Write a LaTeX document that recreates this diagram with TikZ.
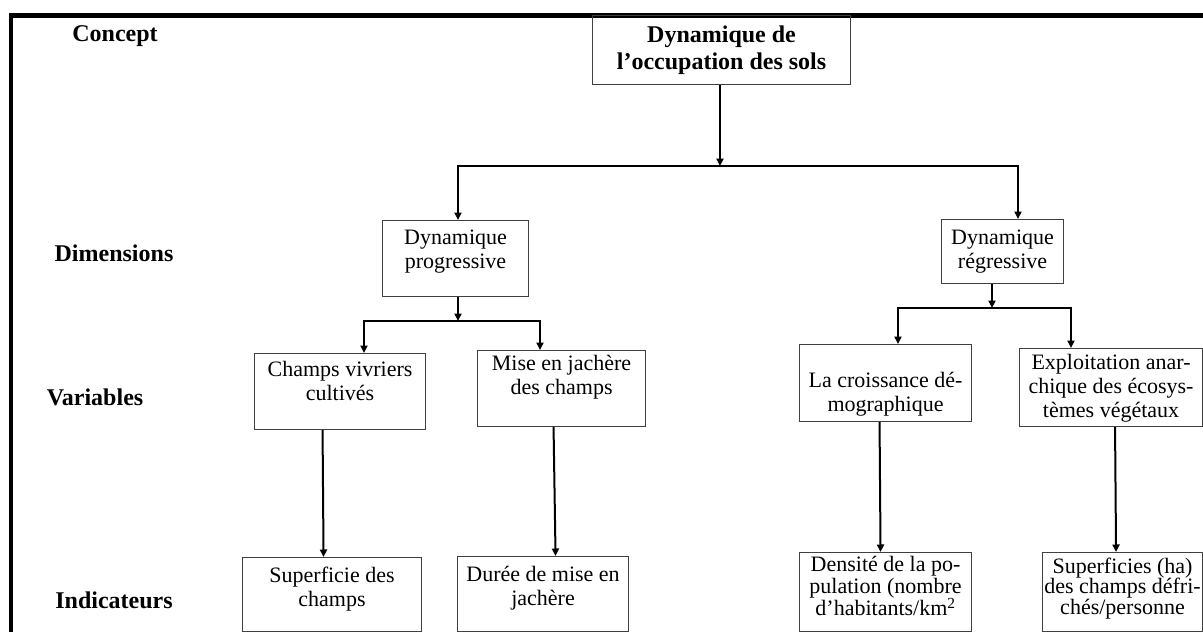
\documentclass[tikz,border=0pt]{standalone}
\usepackage{fontspec}
\setmainfont{Liberation Serif}
\usetikzlibrary{arrows.meta}
\newcommand\bxt[4]{\parbox[c][#2pt][t]{#1pt}{\lineskiplimit=-100pt\centering\vspace*{#3pt}#4\par}}
\begin{document}
\begin{tikzpicture}[x=1pt,y=-1pt,
  box/.style={draw=black!75, line width=1.1pt, inner sep=0pt, anchor=north west, font=\fontsize{22}{24}\selectfont},
  lbl/.style={font=\fontsize{24}{27}\selectfont\bfseries},
  arr/.style={line width=2pt, line join=miter, -{Triangle[length=7.5pt,width=7pt]}},
  frameline/.style={line width=4.5pt, line join=miter}]
\useasboundingbox (0,0) rectangle (1203,632);
% frame
\draw[frameline] (10.8,640) -- (10.8,15.3) -- (1210,15.3);
% labels
\node[lbl] (concept) at (115,36) {Concept};
\node[lbl] (dims) at (114,253) {Dimensions};
\node[lbl] (vars) at (95,397) {Variables};
\node[lbl] (inds) at (114,600) {Indicateurs};
% boxes
\node[box, font=\fontsize{24}{27}\selectfont\bfseries] (top) at (592,15.3) {\bxt{258}{68.7}{10}{Dynamique de\\l’occupation des sols}};
\node[box] (prog) at (382,220) {\bxt{146}{76}{9}{Dynamique\\progressive}};
\node[box] (regr) at (941,219) {\bxt{122}{64}{10}{Dynamique\\régressive}};
\node[box] (champs) at (254,353) {\bxt{171}{76}{8}{Champs vivriers\\cultivés}};
\node[box] (mise) at (477,350) {\bxt{168}{76}{5}{Mise en jachère\\des champs}};
\node[box] (croiss) at (799,344) {\bxt{172}{77}{28}{La croissance dé-\\mographique}};
\node[box] (exploit) at (1019,348) {\bxt{183}{78}{6}{Exploitation anar-\\chique des écosys-\\tèmes végétaux}};
\node[box] (sup) at (242,557) {\bxt{179}{74}{9}{Superficie des\\champs}};
\node[box] (duree) at (457,556) {\bxt{171}{75}{10}{Durée de mise en\\jachère}};
\node[box] (dens) at (799,552) {\bxt{172}{79}{4}{\fontsize{22}{22}\selectfont Densité de la po-\\pulation (nombre\\d’habitants/km\textsuperscript{2}}};
\node[box] (sups) at (1042,552) {\bxt{160}{79}{5}{\fontsize{22}{20.5}\selectfont Superficies (ha)\\des champs défri-\\chés/personne}};
% junction coordinates
\coordinate (j0) at (720,166);
\coordinate (j0L) at (458,166);
\coordinate (j0R) at (1018,166);
\coordinate (jp) at (458,321);
\coordinate (jpL) at (364,321);
\coordinate (jpR) at (540,321);
\coordinate (jr) at (992,308);
\coordinate (jrL) at (898,308);
\coordinate (jrR) at (1071,308);
% connectors
\draw[arr] (top.south -| j0) -- (j0);
\draw[arr] (j0) -- (j0L) -- (j0L |- prog.north);
\draw[arr] (j0) -- (j0R) -- (j0R |- regr.north);
\draw[arr] (prog.south -| jp) -- (jp);
\draw[arr] (jp) -- (jpL) -- (jpL |- champs.north);
\draw[arr] (jp) -- (jpR) -- (jpR |- mise.north);
\draw[arr] (regr.south -| jr) -- (jr);
\draw[arr] (jr) -- (jrL) -- (jrL |- croiss.north);
\draw[arr] (jr) -- (jrR) -- (jrR |- exploit.north);
\draw[arr] ([xshift=-17.5pt]champs.south) -- ([xshift=-8.5pt]sup.north);
\draw[arr] ([xshift=-8pt]mise.south) -- ([xshift=12.5pt]duree.north);
\draw[arr] ([xshift=-6pt]croiss.south) -- ([xshift=-5pt]dens.north);
\draw[arr] ([xshift=4pt]exploit.south) -- ([xshift=-6.5pt]sups.north);
\end{tikzpicture}
\end{document}
